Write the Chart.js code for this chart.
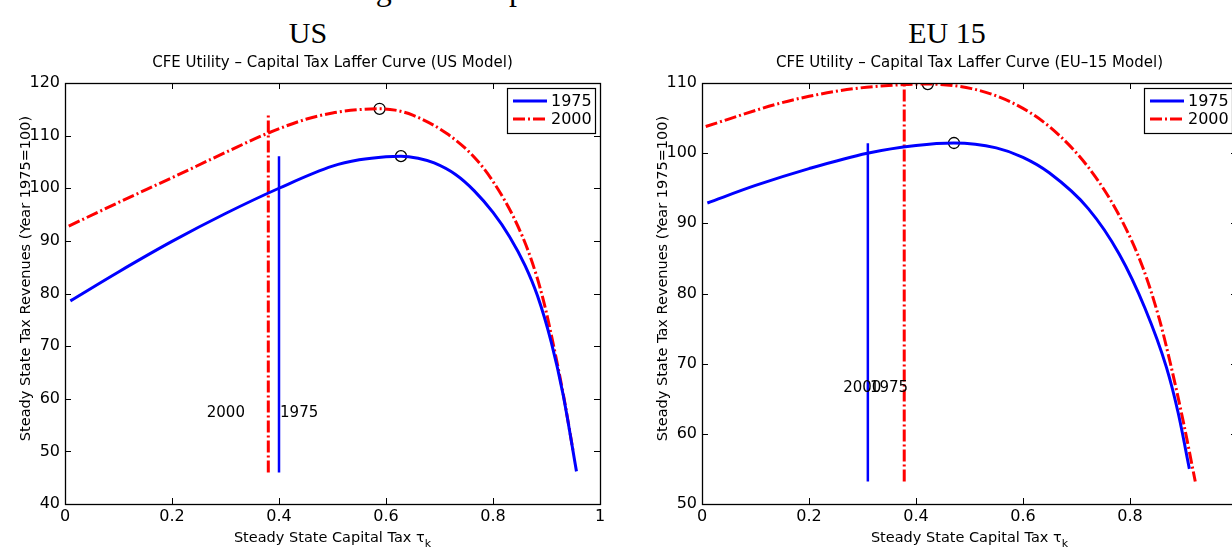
<!DOCTYPE html>
<html>
<head>
<meta charset="utf-8">
<script src="https://cdn.jsdelivr.net/npm/chart.js@4.4.1/dist/chart.umd.min.js"></script>
<style>
  html, body { margin: 0; padding: 0; background: #fff; }
  .page { position: relative; width: 1232px; height: 550px; overflow: hidden; background: #fff; }
  .caption { position: absolute; left: 349px; top: -27px; font-family: 'Liberation Serif', serif; font-size: 32px; line-height: 32px; white-space: nowrap; color: #000; }
  .region { position: absolute; top: 18px; font-family: 'Liberation Serif', serif; font-size: 30px; line-height: 30px; color: #000; transform: translateX(-50%); white-space: nowrap; }
  canvas { position: absolute; top: 0; }
</style>
</head>
<body>
<div class="page">
  <div class="caption">Figure 8: Capital Tax Laffer Curves over Time</div>
  <div class="region" style="left:308px">US</div>
  <div class="region" style="left:947px">EU 15</div>
  <canvas id="us-chart" width="616" height="550" style="left:0"></canvas>
  <canvas id="eu-chart" width="640" height="550" style="left:616px"></canvas>
</div>
<script>
/* Capital tax Laffer curves, US and EU-15 */

// --- US model ---
const usTau1975 = [0.01, 0.1, 0.2, 0.3, 0.4, 0.5, 0.55, 0.6, 0.628, 0.66, 0.69, 0.73, 0.765, 0.8, 0.831, 0.86, 0.883, 0.909, 0.931, 0.956];
const usRev1975 = [78.6, 84.1, 89.9, 95.2, 100.0, 104.2, 105.4, 106.0, 106.1, 105.7, 104.8, 102.6, 99.5, 95.4, 90.8, 85.3, 79.6, 70.7, 60.8, 46.2];
const usTau2000 = [0.007, 0.1, 0.2, 0.3, 0.38, 0.45, 0.5, 0.55, 0.588, 0.617, 0.65, 0.713, 0.765, 0.8, 0.84, 0.87, 0.894, 0.913, 0.932, 0.95];
const usRev2000 = [92.8, 97.3, 102.0, 106.8, 110.5, 113.1, 114.3, 114.95, 115.1, 114.85, 113.9, 110.45, 105.9, 101.3, 94.2, 86.9, 78.8, 70.2, 60.5, 49.9];
// actual tax rate markers [1975, 2000]
const usActualTau = [0.40, 0.38];
const usActualLow = [46, 46];
const usActualHigh = [106.1, 114.4];
// peaks [1975, 2000]
const usPeakTau = [0.628, 0.588];
const usPeakRev = [106.1, 115.1];
// text labels
const usTextTau = [0.402, 0.265];
const usTextRev = [57.2, 57.2];

// --- EU-15 model ---
const euTau1975 = [0.01, 0.1, 0.2, 0.309, 0.4, 0.471, 0.55, 0.6, 0.649, 0.722, 0.78, 0.828, 0.868, 0.89, 0.911];
const euRev1975 = [92.9, 95.4, 97.8, 100.0, 101.1, 101.45, 100.75, 99.4, 97.2, 92.1, 85.6, 77.9, 69.5, 63.0, 55.0];
const euTau2000 = [0.007, 0.14, 0.2, 0.285, 0.378, 0.422, 0.504, 0.577, 0.649, 0.722, 0.78, 0.824, 0.855, 0.875, 0.9, 0.922];
const euRev2000 = [103.8, 107.0, 108.1, 109.2, 109.78, 109.85, 109.2, 107.3, 103.8, 98.0, 91.1, 83.7, 76.3, 70.2, 61.6, 53.2];
const euActualTau = [0.31, 0.378];
const euActualLow = [53.2, 53.2];
const euActualHigh = [101.4, 109.8];
const euPeakTau = [0.471, 0.422];
const euPeakRev = [101.45, 109.85];
const euTextTau = [0.314, 0.264];
const euTextRev = [66.5, 66.5];

const seriesNames = ['1975', '2000'];
const xTicks = [0, 0.2, 0.4, 0.6, 0.8, 1];

const BLUE = '#0000ff';
const RED = '#ff0000';
const DASHDOT = [12, 3, 2, 3];
const FONT = "'DejaVu Sans', 'Liberation Sans', sans-serif";

Chart.defaults.font.family = FONT;
Chart.defaults.color = '#000';

const zip = (xs, ys) => xs.map((x, i) => ({ x, y: ys[i] }));

// MATLAB style frame: box, inward ticks, titles, text labels and legend
const matlabFrame = {
  id: 'matlabFrame',
  afterDraw(chart, args, opts) {
    const { ctx, chartArea: ca, scales: { x, y } } = chart;
    ctx.save();

    // inward ticks
    ctx.strokeStyle = '#000';
    ctx.lineWidth = 1;
    ctx.beginPath();
    x.ticks.forEach(t => {
      const px = Math.round(x.getPixelForValue(t.value)) + 0.5;
      ctx.moveTo(px, ca.bottom); ctx.lineTo(px, ca.bottom - 6);
      ctx.moveTo(px, ca.top); ctx.lineTo(px, ca.top + 6);
    });
    y.ticks.forEach(t => {
      const py = Math.round(y.getPixelForValue(t.value)) + 0.5;
      ctx.moveTo(ca.left, py); ctx.lineTo(ca.left + 6, py);
      ctx.moveTo(ca.right, py); ctx.lineTo(ca.right - 6, py);
    });
    ctx.stroke();
    ctx.lineWidth = 1.3;
    ctx.strokeRect(Math.round(ca.left) + 0.5, Math.round(ca.top) + 0.5, Math.round(ca.width), Math.round(ca.height));

    const cx = (ca.left + ca.right) / 2;
    ctx.fillStyle = '#000';

    // subplot title
    ctx.font = '15px ' + FONT;
    ctx.textAlign = 'center';
    ctx.textBaseline = 'middle';
    ctx.fillText(opts.title, cx, 63);

    // x label with subscript
    ctx.font = '14.5px ' + FONT;
    ctx.textBaseline = 'alphabetic';
    ctx.textAlign = 'left';
    const main = 'Steady State Capital Tax ';
    const wMain = ctx.measureText(main).width;
    const wTau = ctx.measureText('τ').width;
    ctx.font = '11px ' + FONT;
    const wK = ctx.measureText('k').width;
    const lx = cx - (wMain + wTau + wK) / 2;
    ctx.font = '14.5px ' + FONT;
    ctx.fillText(main, lx, 542);
    ctx.fillText('τ', lx + wMain, 542);
    ctx.font = '11px ' + FONT;
    ctx.fillText('k', lx + wMain + wTau, 547);

    // y label
    ctx.save();
    ctx.translate(ca.left - 39, (ca.top + ca.bottom) / 2 - 15);
    ctx.rotate(-Math.PI / 2);
    ctx.font = '14.5px ' + FONT;
    ctx.textAlign = 'center';
    ctx.textBaseline = 'middle';
    ctx.fillText('Steady State Tax Revenues (Year 1975=100)', 0, 0);
    ctx.restore();

    // year labels next to the actual tax rate lines
    ctx.font = '15px ' + FONT;
    ctx.textAlign = 'left';
    ctx.textBaseline = 'middle';
    opts.textTau.forEach((t, i) => {
      ctx.fillText(seriesNames[i], x.getPixelForValue(t), y.getPixelForValue(opts.textRev[i]));
    });

    // legend box
    const bw = 88, bh = 45;
    const bx = Math.round(ca.right) - 5 - bw, by = Math.round(ca.top) + 5;
    ctx.fillStyle = '#fff';
    ctx.fillRect(bx, by, bw, bh);
    ctx.strokeStyle = '#000';
    ctx.lineWidth = 1.2;
    ctx.strokeRect(bx + 0.5, by + 0.5, bw, bh);
    [0, 1].forEach(i => {
      const ds = chart.data.datasets[i];
      const ry = by + 13 + i * 18;
      ctx.strokeStyle = ds.borderColor;
      ctx.lineWidth = ds.borderWidth;
      ctx.setLineDash(ds.borderDash || []);
      ctx.beginPath();
      ctx.moveTo(bx + 6, ry); ctx.lineTo(bx + 40, ry);
      ctx.stroke();
      ctx.setLineDash([]);
      ctx.fillStyle = '#000';
      ctx.font = '16px ' + FONT;
      ctx.fillText(ds.label, bx + 44, ry + 1);
    });

    ctx.restore();
  }
};

function buildLaffer(canvasId, d) {
  const canvas = document.getElementById(canvasId);
  return new Chart(canvas, {
    type: 'line',
    data: {
      datasets: [
        { label: seriesNames[0], data: zip(d.tau1975, d.rev1975), borderColor: BLUE, borderWidth: 3,
          pointRadius: 0, cubicInterpolationMode: 'monotone', fill: false },
        { label: seriesNames[1], data: zip(d.tau2000, d.rev2000), borderColor: RED, borderWidth: 3,
          borderDash: DASHDOT, pointRadius: 0, cubicInterpolationMode: 'monotone', fill: false },
        { label: 'actual 1975', data: [{ x: d.actualTau[0], y: d.actualLow[0] }, { x: d.actualTau[0], y: d.actualHigh[0] }],
          borderColor: BLUE, borderWidth: 2.5, pointRadius: 0, fill: false },
        { label: 'actual 2000', data: [{ x: d.actualTau[1], y: d.actualLow[1] }, { x: d.actualTau[1], y: d.actualHigh[1] }],
          borderColor: RED, borderWidth: 3, borderDash: DASHDOT, pointRadius: 0, fill: false },
        { label: 'peaks', data: zip(d.peakTau, d.peakRev), showLine: false, pointRadius: 5.5,
          pointStyle: 'circle', pointBorderColor: '#000', pointBackgroundColor: 'rgba(0,0,0,0)', pointBorderWidth: 1.3 }
      ]
    },
    options: {
      responsive: false,
      animation: false,
      devicePixelRatio: 1,
      layout: { padding: { left: 0, right: d.padRight, top: 83, bottom: 0 } },
      plugins: {
        legend: { display: false },
        tooltip: { enabled: false },
        matlabFrame: { title: d.title, textTau: d.textTau, textRev: d.textRev }
      },
      scales: {
        x: {
          type: 'linear', min: 0, max: 1,
          afterBuildTicks: s => { s.ticks = xTicks.map(v => ({ value: v })); },
          afterFit: s => { s.height = 46; },
          ticks: { font: { size: 16 }, color: '#000', padding: 3, maxRotation: 0,
                   callback: v => String(Math.round(v * 10) / 10) },
          grid: { display: false, drawTicks: false },
          border: { display: false }
        },
        y: {
          type: 'linear', min: d.yMin, max: d.yMax,
          afterFit: s => { s.width = d.yWidth; },
          ticks: { stepSize: 10, font: { size: 16 }, color: '#000', padding: 5 },
          grid: { display: false, drawTicks: false },
          border: { display: false }
        }
      }
    },
    plugins: [matlabFrame]
  });
}

buildLaffer('us-chart', {
  title: 'CFE Utility – Capital Tax Laffer Curve (US Model)',
  tau1975: usTau1975, rev1975: usRev1975, tau2000: usTau2000, rev2000: usRev2000,
  actualTau: usActualTau, actualLow: usActualLow, actualHigh: usActualHigh,
  peakTau: usPeakTau, peakRev: usPeakRev, textTau: usTextTau, textRev: usTextRev,
  yMin: 40, yMax: 120, yWidth: 65, padRight: 16
});

buildLaffer('eu-chart', {
  title: 'CFE Utility – Capital Tax Laffer Curve (EU–15 Model)',
  tau1975: euTau1975, rev1975: euRev1975, tau2000: euTau2000, rev2000: euRev2000,
  actualTau: euActualTau, actualLow: euActualLow, actualHigh: euActualHigh,
  peakTau: euPeakTau, peakRev: euPeakRev, textTau: euTextTau, textRev: euTextRev,
  yMin: 50, yMax: 110, yWidth: 86, padRight: 19
});
</script>
</body>
</html>
